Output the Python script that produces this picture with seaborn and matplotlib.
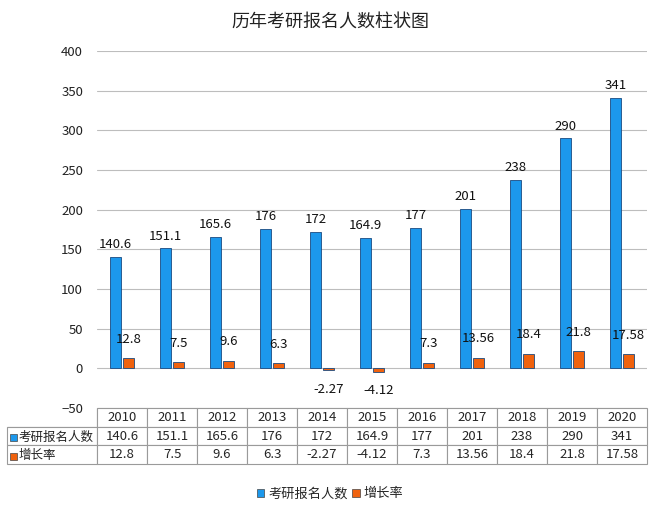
import matplotlib
matplotlib.use("Agg")
import matplotlib.pyplot as plt
import matplotlib.patches as mpatches
import pandas as pd
import seaborn as sns

years = ['2010', '2011', '2012', '2013', '2014', '2015', '2016', '2017', '2018', '2019', '2020']
applicants = [140.6, 151.1, 165.6, 176, 172, 164.9, 177, 201, 238, 290, 341]
growth = [12.8, 7.5, 9.6, 6.3, -2.27, -4.12, 7.3, 13.56, 18.4, 21.8, 17.58]
applicant_labels = ['140.6', '151.1', '165.6', '176', '172', '164.9', '177', '201', '238', '290', '341']
growth_labels = ['12.8', '7.5', '9.6', '6.3', '-2.27', '-4.12', '7.3', '13.56', '18.4', '21.8', '17.58']
series_names = ['考研报名人数', '增长率']
title = '历年考研报名人数柱状图'

blue = '#1c98ec'
orange = '#f0620e'

sns.set_theme(style='white')
plt.rcParams['font.family'] = ['Noto Sans CJK SC', 'DejaVu Sans']

df = pd.DataFrame({
    'year': years * 2,
    'value': applicants + growth,
    'series': [series_names[0]] * len(years) + [series_names[1]] * len(years),
})

fig = plt.figure(figsize=(6.6, 5.14), dpi=100)
ax = fig.add_axes([97 / 660, (514 - 408) / 514, 550 / 660, 357 / 514])

sns.barplot(data=df, x='year', y='value', hue='series', palette=[blue, orange],
            saturation=1, width=0.5, gap=0.12, edgecolor='#1a4a80', linewidth=0.6,
            legend=False, ax=ax)

ax.set_ylim(-50, 400)
ax.set_xlim(-0.5, len(years) - 0.5)
ax.set_yticks(range(-50, 401, 50))
ax.tick_params(axis='y', labelsize=9.5, colors='#222222', length=0, pad=10)
ax.set_xticks([])
ax.set_xlabel('')
ax.set_ylabel('')
ax.yaxis.grid(True, color='#bdbdbd', linewidth=0.8)
ax.set_axisbelow(True)
for side in ['top', 'right', 'left', 'bottom']:
    ax.spines[side].set_visible(False)

ax.bar_label(ax.containers[0], labels=applicant_labels, padding=4, fontsize=9.5, color='#111111')
ax.bar_label(ax.containers[1], labels=growth_labels, padding=9, fontsize=9.5, color='#111111')

# data table under the plot (row labels drawn separately)
cell_text = [[''] + applicant_labels, [''] + growth_labels]
label_w = 90
col_w = 550 / len(years)
total_w = label_w + col_w * len(years)
tbl = ax.table(cellText=cell_text, colLabels=[''] + years,
               colWidths=[label_w / total_w] + [col_w / total_w] * len(years),
               cellLoc='center',
               bbox=[-label_w / 550, -56 / 357, total_w / 550, 56 / 357])
tbl.auto_set_font_size(False)
tbl.set_fontsize(9.5)
for (r, c), cell in tbl.get_celld().items():
    cell.set_edgecolor('#9a9a9a')
    cell.set_linewidth(0.8)
    if r == 0 and c == 0:
        cell.visible_edges = 'BR'

# coloured markers and names in the table row labels
for i, (color, name) in enumerate(zip([blue, orange], series_names)):
    y_pix = 437 + i * 19
    fig.patches.append(mpatches.Rectangle((10 / 660, (514 - y_pix - 3.5) / 514), 7 / 660, 7 / 514,
                                          transform=fig.transFigure, facecolor=color,
                                          edgecolor='#444444', linewidth=0.5))
    fig.text(18.5 / 660, (514 - y_pix) / 514, name, ha='left', va='center',
             fontsize=9, color='#222222')

fig.text(0.5, (514 - 22) / 514, title, ha='center', va='center', fontsize=13, color='#222222')

handles = [mpatches.Patch(facecolor=blue, edgecolor='#444444', linewidth=0.5),
           mpatches.Patch(facecolor=orange, edgecolor='#444444', linewidth=0.5)]
fig.legend(handles, series_names, loc='center', bbox_to_anchor=(0.5, (514 - 494) / 514),
           ncol=2, frameon=False, fontsize=9.5, handlelength=0.6, handleheight=0.6,
           handletextpad=0.3, columnspacing=0.3)

fig.savefig('out.png', dpi=100, facecolor='white')
